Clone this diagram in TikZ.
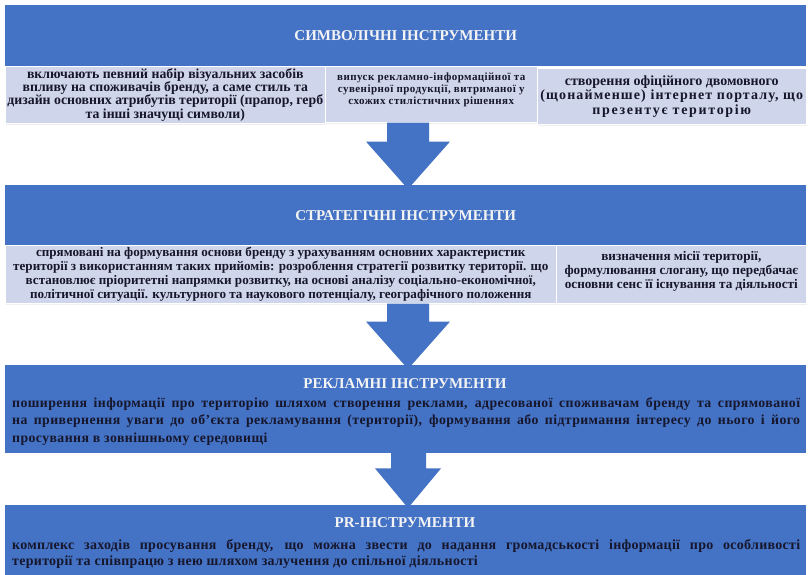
\documentclass[tikz,border=0pt]{standalone}
\usepackage{fontspec}
\setmainfont{Liberation Serif}
\newfontfamily\spacedwide[LetterSpace=3]{Liberation Serif}
\newfontfamily\spacedeight[LetterSpace=8]{Liberation Serif}
\newfontfamily\spacedtwelve[LetterSpace=12]{Liberation Serif}
\newfontfamily\spacedlow[LetterSpace=4]{Liberation Serif}
\newfontfamily\spacedtiny[LetterSpace=2]{Liberation Serif}
\usetikzlibrary{calc,shadows}
\definecolor{bluebg}{HTML}{4472C4}
\definecolor{lightbg}{HTML}{CFD5EA}
\definecolor{darktext}{HTML}{16162C}
\definecolor{titletext}{HTML}{F4F4F4}
\tikzset{
  bluebox/.style={fill=bluebg, draw=none, anchor=north west, inner sep=0pt},
  lightbox/.style={fill=lightbg, draw=white, line width=0.6pt, anchor=north west, inner sep=0pt,
    drop shadow={opacity=0.12, shadow xshift=1pt, shadow yshift=-2pt}},
  titletxt/.style={text=titletext, font=\bfseries\fontsize{15}{17}\selectfont},
  bodytxt/.style={text=darktext, align=center},
  blocktxt/.style={text=darktext, anchor=north west, inner sep=0pt, text width=788pt, align=justify},
  arrowfill/.style={fill=bluebg, draw=none},
}
\begin{document}
\begin{tikzpicture}[x=1pt,y=-1pt]
\useasboundingbox (0,0) rectangle (808,575);
\fill[white] (0,0) rectangle (808,575);

% ---- box 1
\node[bluebox, minimum width=801pt, minimum height=61pt] (b1) at (5,5) {};
\node[titletxt] (t1) at (b1.center) {СИМВОЛІЧНІ ІНСТРУМЕНТИ};
\node[lightbox, minimum width=320pt, minimum height=57pt] (l11) at (5,66) {};
\node[bodytxt, font=\bfseries\fontsize{13.8}{13.4}\selectfont] (x11) at (l11.center)
  {включають певний набір візуальних засобів\\впливу на споживачів бренду, а саме стиль та\\дизайн основних атрибутів території (прапор, герб\\та інші значущі символи)};
\node[lightbox, minimum width=212pt, minimum height=56pt] (l12) at (325,66) {};
\node[bodytxt, font=\bfseries\spacedlow\fontsize{11}{12}\selectfont] (x12) at ($(l12.center)+(0,-4)$)
  {випуск рекламно-інформаційної та\\сувенірної продукції, витриманої у\\схожих стилістичних рішеннях};
\node[lightbox, minimum width=269pt, minimum height=56pt] (l13) at (537,68) {};
\node[bodytxt, font=\bfseries\fontsize{14}{14.5}\selectfont] (x13) at (l13.center)
  {створення офіційного двомовного\\{\spacedeight(щонайменше) інтернет порталу, що}\\{\spacedtwelve презентує територію}};

% ---- box 2
\node[bluebox, minimum width=801pt, minimum height=60pt] (b2) at (5,185) {};
\node[titletxt] (t2) at (b2.center) {СТРАТЕГІЧНІ ІНСТРУМЕНТИ};
\node[lightbox, minimum width=551pt, minimum height=58pt] (l21) at (5,245) {};
\node[bodytxt, font=\bfseries\fontsize{13.1}{14}\selectfont] (x21) at (l21.center)
  {спрямовані на формування основи бренду з урахуванням основних характеристик\\території з використанням таких прийомів: розроблення стратегії розвитку території. що\\встановлює пріоритетні напрямки розвитку, на основі аналізу соціально-економічної,\\політичної ситуації. культурного та наукового потенціалу, географічного положення};
\node[lightbox, minimum width=250pt, minimum height=58pt] (l22) at (556,245) {};
\node[bodytxt, font=\bfseries\fontsize{13.2}{13.6}\selectfont] (x22) at ($(l22.center)+(0,-3)$)
  {визначення місії території,\\формулювання слогану, що передбачає\\основни сенс її існування та діяльності};

% ---- box 3
\node[bluebox, minimum width=801pt, minimum height=88pt] (b3) at (5,365) {};
\node[titletxt, anchor=base] (t3) at (405,388.5) {РЕКЛАМНІ ІНСТРУМЕНТИ};
\node[blocktxt, font=\bfseries\spacedwide\fontsize{13.8}{17.5}\selectfont] (x3) at (12,397)
  {поширення інформації про територію шляхом створення реклами, адресованої споживачам бренду та спрямованої\linebreak
   на привернення уваги до об’єкта рекламування (території), формування або підтримання інтересу до нього і його\linebreak
   просування в зовнішньому середовищі};

% ---- box 4
\node[bluebox, minimum width=801pt, minimum height=70pt] (b4) at (5,505) {};
\node[titletxt, anchor=base] (t4) at (405,527.5) {PR-ІНСТРУМЕНТИ};
\node[blocktxt, font=\bfseries\spacedtiny\fontsize{14}{16}\selectfont] (x4) at (12,539)
  {комплекс заходів просування бренду, що можна звести до надання громадськості інформації про особливості\linebreak
   території та співпрацю з нею шляхом залучення до спільної діяльності};

% ---- arrows
\fill[arrowfill] let \p1=(l12.south), \p2=(b2.north) in
  (387pt,\y1) -- (429pt,\y1) -- (429pt,\y1-19pt) -- (450pt,\y1-19pt) -- (408pt,\y2-4pt)
  -- (366pt,\y1-19pt) -- (387pt,\y1-19pt) -- cycle;
\fill[arrowfill] let \p1=(l21.south), \p2=(b3.north) in
  (387pt,\y1) -- (429pt,\y1) -- (429pt,\y1-18pt) -- (450pt,\y1-18pt) -- (408pt,\y2-4pt)
  -- (366pt,\y1-18pt) -- (387pt,\y1-18pt) -- cycle;
\fill[arrowfill] let \p1=(b3.south), \p2=(b4.north) in
  (391pt,\y1+1pt) -- (426pt,\y1+1pt) -- (426pt,\y1-15pt) -- (441pt,\y1-15pt) -- (408pt,\y2-3pt)
  -- (375pt,\y1-15pt) -- (391pt,\y1-15pt) -- cycle;
\end{tikzpicture}
\end{document}
